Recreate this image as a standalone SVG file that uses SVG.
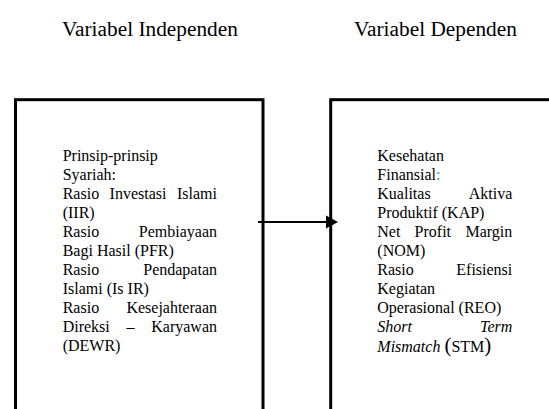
<svg xmlns="http://www.w3.org/2000/svg" width="549" height="409" viewBox="0 0 549 409">
<style>
.t{font-family:"Liberation Serif","Times New Roman",serif;font-size:16px;fill:#000}
.h{font-family:"Liberation Serif","Times New Roman",serif;font-size:21.33px;fill:#000}
.box{fill:none;stroke:#000;stroke-width:3}
.e{text-anchor:end}
.i{font-style:italic}
</style>
<rect width="549" height="409" fill="#fff"/>
<text class="h" x="62" y="36">Variabel Independen</text>
<text class="h" x="354" y="36">Variabel Dependen</text>
<g id="independen">
<rect class="box" x="15.5" y="99.7" width="247.5" height="330"/>
<text class="t" x="62.7" y="160.5">Prinsip-prinsip</text>
<text class="t" x="62.7" y="179.5">Syariah:</text>
<text class="t" x="62.7" y="198.5">Rasio</text><text class="t" x="109.6" y="198.5">Investasi</text><text class="t e" x="217" y="198.5">Islami</text>
<text class="t" x="62.7" y="217.5">(IIR)</text>
<text class="t" x="62.7" y="236.5">Rasio</text><text class="t e" x="217" y="236.5">Pembiayaan</text>
<text class="t" x="62.7" y="255.5">Bagi Hasil (PFR)</text>
<text class="t" x="62.7" y="274.5">Rasio</text><text class="t e" x="217" y="274.5">Pendapatan</text>
<text class="t" x="62.7" y="293.5">Islami (Is IR)</text>
<text class="t" x="62.7" y="312.5">Rasio</text><text class="t e" x="217" y="312.5">Kesejahteraan</text>
<text class="t" x="62.7" y="331.5">Direksi</text><text class="t" x="126.5" y="331.5">–</text><text class="t e" x="217" y="331.5">Karyawan</text>
<text class="t" x="62.7" y="350.5">(DEWR)</text>
</g>
<g id="dependen">
<rect class="box" x="330.7" y="99.7" width="240" height="330"/>
<text class="t" x="377.3" y="160.5">Kesehatan</text>
<text class="t" x="377.3" y="179.5">Finansial<tspan fill="#4f81bd">:</tspan></text>
<text class="t" x="377.3" y="198.5">Kualitas</text><text class="t e" x="512.3" y="198.5">Aktiva</text>
<text class="t" x="377.3" y="217.5">Produktif (KAP)</text>
<text class="t" x="377.3" y="236.5">Net</text><text class="t" x="414.6" y="236.5">Profit</text><text class="t e" x="512.3" y="236.5">Margin</text>
<text class="t" x="377.3" y="255.5">(NOM)</text>
<text class="t" x="377.3" y="274.5">Rasio</text><text class="t e" x="512.3" y="274.5">Efisiensi</text>
<text class="t" x="377.3" y="293.5">Kegiatan</text>
<text class="t" x="377.3" y="312.5">Operasional (REO)</text>
<text class="t i" x="377.3" y="331.5">Short</text><text class="t i e" x="512.3" y="331.5">Term</text>
<text class="t" x="377.3" y="352"><tspan font-style="italic">Mismatch </tspan><tspan font-size="21">(</tspan>STM<tspan font-size="21">)</tspan></text>
</g>
<g id="connectors">
<line x1="258" y1="222" x2="328" y2="222" stroke="#000" stroke-width="2"/>
<polygon points="326,215.5 338,222 326,228.5" fill="#000"/>
</g>
</svg>
